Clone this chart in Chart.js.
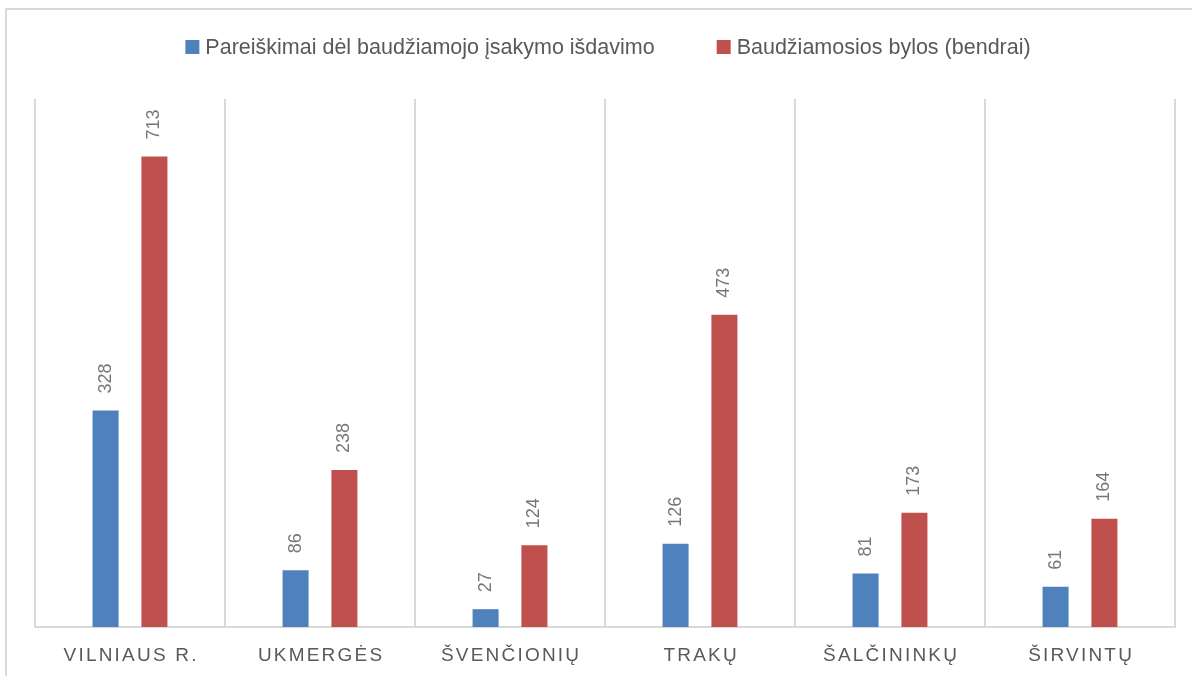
<!DOCTYPE html>
<html>
<head>
<meta charset="utf-8">
<script src="https://cdn.jsdelivr.net/npm/chart.js@4/dist/chart.umd.min.js"></script>
<style>
html, body { margin: 0; padding: 0; background: #fff; }
#wrap { position: relative; width: 1192px; height: 676px; overflow: hidden; }
#frame { position: absolute; left: 5px; top: 8px; width: 1300px; height: 800px; border: 2px solid #d9d9d9; }
#chart { position: absolute; left: 0; top: 0; }
</style>
</head>
<body>
<div id="wrap">
  <div id="frame"></div>
  <canvas id="chart" width="1192" height="676"></canvas>
</div>
<script>
// Data
const categories = ['VILNIAUS R.', 'UKMERGĖS', 'ŠVENČIONIŲ', 'TRAKŲ', 'ŠALČININKŲ', 'ŠIRVINTŲ'];
const seriesNames = ['Pareiškimai dėl baudžiamojo įsakymo išdavimo', 'Baudžiamosios bylos (bendrai)'];
const orders = [328, 86, 27, 126, 81, 61];
const cases = [713, 238, 124, 473, 173, 164];
const yMax = 800;

const FONT = '"Liberation Sans", Arial, sans-serif';
const TEXT = '#595959';
const VALUE_TEXT = '#767676';

// Legend row above the plot (boxes + labels, centred)
const topLegend = {
  id: 'topLegend',
  afterDraw(c) {
    const ctx = c.ctx;
    ctx.save();
    ctx.font = '21.5px ' + FONT;
    const items = c.data.datasets.map(ds => ({
      text: ds.label,
      color: ds.backgroundColor,
      w: ctx.measureText(ds.label).width,
    }));
    const box = 14, gapText = 6, gapItem = 62;
    const total = items.reduce((s, it) => s + box + gapText + it.w, 0) + gapItem * (items.length - 1);
    let x = 608 - total / 2;
    items.forEach(it => {
      ctx.fillStyle = it.color;
      ctx.fillRect(x, 40, box, box);
      ctx.fillStyle = TEXT;
      ctx.textBaseline = 'alphabetic';
      ctx.fillText(it.text, x + box + gapText, 54);
      x += box + gapText + it.w + gapItem;
    });
    ctx.restore();
  },
};

// Category labels with letter spacing
const spacedTicks = {
  id: 'spacedTicks',
  afterDraw(c) {
    const ctx = c.ctx;
    const xs = c.scales.x;
    ctx.save();
    ctx.font = '19px ' + FONT;
    ctx.letterSpacing = '2.2px';
    ctx.fillStyle = TEXT;
    ctx.textAlign = 'center';
    ctx.textBaseline = 'middle';
    c.data.labels.forEach((lab, i) => {
      ctx.fillText(lab, xs.getPixelForValue(i) + 1.1, 656);
    });
    ctx.restore();
  },
};

// Rotated value labels above each bar
const barValues = {
  id: 'barValues',
  afterDatasetsDraw(c) {
    const ctx = c.ctx;
    ctx.save();
    ctx.font = '18px ' + FONT;
    ctx.fillStyle = VALUE_TEXT;
    ctx.textAlign = 'left';
    ctx.textBaseline = 'middle';
    c.data.datasets.forEach((ds, di) => {
      c.getDatasetMeta(di).data.forEach((bar, i) => {
        ctx.save();
        ctx.translate(bar.x, bar.y - 17);
        ctx.rotate(-Math.PI / 2);
        ctx.fillText(String(ds.data[i]), 0, 0);
        ctx.restore();
      });
    });
    ctx.restore();
  },
};

new Chart(document.getElementById('chart'), {
  type: 'bar',
  data: {
    labels: categories,
    datasets: [
      { label: seriesNames[0], data: orders, backgroundColor: '#4f81bd' },
      { label: seriesNames[1], data: cases, backgroundColor: '#c0504d' },
    ],
  },
  options: {
    responsive: false,
    animation: false,
    layout: { padding: { top: 99, bottom: 49, left: 35, right: 17 } },
    datasets: { bar: { categoryPercentage: 0.514, barPercentage: 0.533 } },
    plugins: {
      legend: { display: false },
      tooltip: { enabled: false },
    },
    scales: {
      x: {
        grid: { offset: true, color: '#d9d9d9', lineWidth: 2, drawTicks: false },
        border: { color: '#d9d9d9', width: 2 },
        ticks: { display: false },
      },
      y: { display: false, min: 0, max: yMax },
    },
  },
  plugins: [topLegend, spacedTicks, barValues],
});
</script>
</body>
</html>
